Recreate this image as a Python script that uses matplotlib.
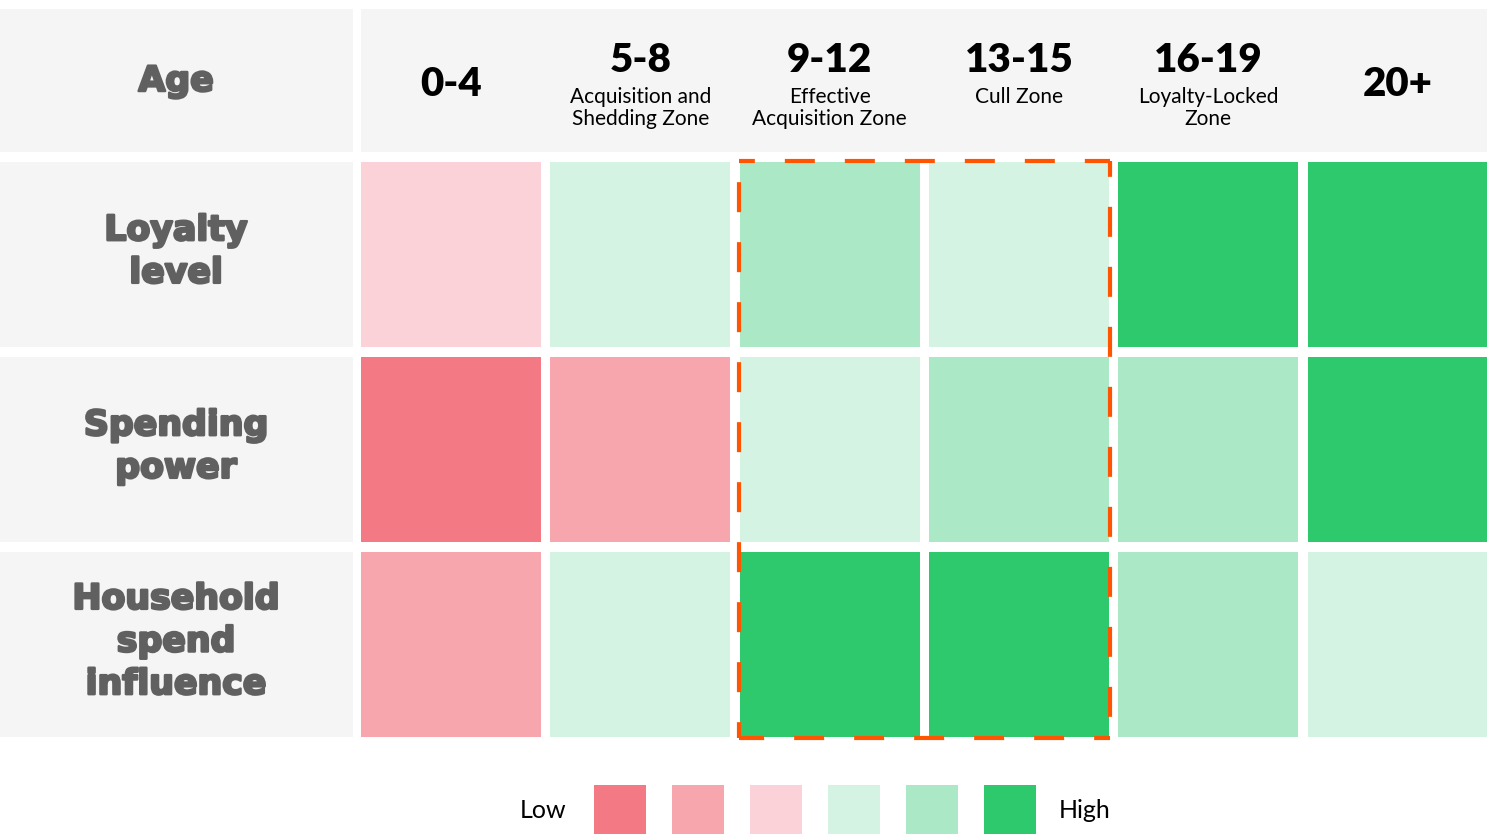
import matplotlib.pyplot as plt
from matplotlib.patches import Rectangle
import matplotlib.patheffects as pe

# data
age_groups = ["0-4", "5-8", "9-12", "13-15", "16-19", "20+"]
zone_names = ["", "Acquisition and\nShedding Zone", "Effective\nAcquisition Zone",
              "Cull Zone", "Loyalty-Locked\nZone", ""]
metrics = ["Loyalty\nlevel", "Spending\npower", "Household\nspend\ninfluence"]
# 0 = low ... 5 = high
loyalty = [2, 3, 4, 3, 5, 5]
spending = [0, 1, 3, 4, 4, 5]
household = [1, 3, 5, 5, 4, 3]
levels = [loyalty, spending, household]
highlight_cols = [2, 3]

palette = ["#f37a84", "#f7a6ae", "#fad2d8", "#d5f3e2", "#abe9c6", "#2ec96d"]

W, H = 1487, 834
fig = plt.figure(figsize=(W / 100, H / 100), dpi=100)
ax = fig.add_axes([0, 0, 1, 1])
ax.set_xlim(0, W)
ax.set_ylim(H, 0)
ax.axis("off")

label_gray = "#606060"
bg = "#f5f5f5"
thick = [pe.withStroke(linewidth=1.8, foreground=label_gray)]

x0, col_step, cell_w = 361, 189.3, 180
y0, row_step, cell_h = 162, 195, 185

# header band
ax.add_patch(Rectangle((0, 9), 353, 143, color=bg, lw=0))
ax.add_patch(Rectangle((x0, 9), W - x0, 143, color=bg, lw=0))
ax.text(176, 81, "Age", ha="center", va="center", fontsize=25, fontweight="bold",
        family="DejaVu Sans", color=label_gray, path_effects=thick)

for i, (g, z) in enumerate(zip(age_groups, zone_names)):
    cx = x0 + i * col_step + cell_w / 2
    if z:
        ax.text(cx, 60, g, ha="center", va="center", fontsize=29, fontweight="heavy",
                family="Lato", color="black")
        ax.text(cx, 87, z, ha="center", va="top", fontsize=15, family="Lato",
                color="black", linespacing=1.1)
    else:
        ax.text(cx, 84, g, ha="center", va="center", fontsize=29, fontweight="heavy",
                family="Lato", color="black")

# rows
for r, (name, vals) in enumerate(zip(metrics, levels)):
    y = y0 + r * row_step
    ax.add_patch(Rectangle((0, y), 353, cell_h, color=bg, lw=0))
    ax.text(176, y + cell_h / 2 - 3, name, ha="center", va="center", fontsize=25,
            fontweight="bold", family="DejaVu Sans", color=label_gray,
            linespacing=1.32, path_effects=thick)
    for c, v in enumerate(vals):
        ax.add_patch(Rectangle((x0 + c * col_step, y), cell_w, cell_h,
                               color=palette[v], lw=0))

# dashed highlight box, each side drawn from its corner
left = x0 + highlight_cols[0] * col_step - 1
right = x0 + highlight_cols[-1] * col_step + cell_w + 1
top = y0 - 1
bottom = y0 + 2 * row_step + cell_h + 1
dash = dict(color="#ff5500", lw=3, linestyle=(3.4, (7.2, 7.2)), zorder=5,
            solid_capstyle="butt", dash_capstyle="butt")
ax.plot([left, right], [top, top], **dash)
ax.plot([right, right], [top, bottom], **dash)
ax.plot([right, left], [bottom, bottom], **dash)
ax.plot([left, left], [bottom, top], **dash)

# legend
lx0, lstep, lw_ = 594, 77.9, 52
for k, col in enumerate(palette):
    ax.add_patch(Rectangle((lx0 + k * lstep, 785), lw_, 52, color=col, lw=0))
ax.text(543, 810, "Low", ha="center", va="center", fontsize=18, family="Lato")
ax.text(1085, 810, "High", ha="center", va="center", fontsize=18, family="Lato")

fig.savefig("out.png", dpi=100, facecolor="white")
